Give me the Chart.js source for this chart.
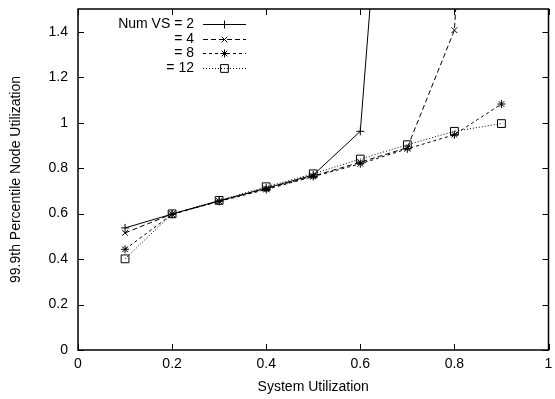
<!DOCTYPE html>
<html><head><meta charset="utf-8">
<style>html,body{margin:0;padding:0;background:#fff}canvas{display:block}</style>
<script src="https://cdn.jsdelivr.net/npm/chart.js@4.4.1/dist/chart.umd.min.js"></script>
</head><body>
<canvas id="c" width="555" height="399"></canvas>
<script>
// ---- data ----
const xValues = [0.1, 0.2, 0.3, 0.4, 0.5, 0.6, 0.7, 0.8, 0.9];
const vs2  = [0.537, 0.598, 0.656, 0.712, 0.770, 0.962, 3.6];
const vs4  = [0.515, 0.598, 0.655, 0.710, 0.765, 0.826, 0.890, 1.407, 4.7];
const vs8  = [0.443, 0.597, 0.654, 0.706, 0.763, 0.819, 0.885, 0.947, 1.082];
const vs12 = [0.401, 0.599, 0.658, 0.718, 0.775, 0.840, 0.903, 0.962, 0.996];
const seriesLabels = ['Num VS = 2', '= 4', '= 8', '= 12'];
const xTicks = [0, 0.2, 0.4, 0.6, 0.8, 1];
const xTickLabels = ['0', '0.2', '0.4', '0.6', '0.8', '1'];
const yTicks = [0, 0.2, 0.4, 0.6, 0.8, 1, 1.2, 1.4];
const yTickLabels = ['0', '0.2', '0.4', '0.6', '0.8', '1', '1.2', '1.4'];
const xTitle = 'System Utilization';
const yTitle = '99.9th Percentile Node Utilization';

// ---- styles ----
const FONT = '"Liberation Sans", Arial, Helvetica, sans-serif';
const INK = '#000';
const dashes = [[], [5, 3], [3, 3], [1, 2]];
const pStyles = ['cross', 'crossRot', 'star', 'rect'];
const pRadius = [4, 4, 4, 5.5];
const allSeries = [vs2, vs4, vs8, vs12];

const datasets = allSeries.map((vals, i) => ({
  label: seriesLabels[i],
  data: vals.map((v, j) => ({x: xValues[j], y: v})),
  borderColor: INK,
  borderWidth: 1,
  borderDash: dashes[i],
  pointStyle: pStyles[i],
  pointRadius: pRadius[i],
  pointBorderColor: INK,
  pointBackgroundColor: 'rgba(0,0,0,0)',
  pointBorderWidth: 1,
  fill: false,
  tension: 0
}));

function drawMarker(ctx, style, x, y, r) {
  ctx.beginPath();
  if (style === 'cross' || style === 'star') {
    ctx.moveTo(x - r, y); ctx.lineTo(x + r, y);
    ctx.moveTo(x, y - r); ctx.lineTo(x, y + r);
  }
  if (style === 'crossRot' || style === 'star') {
    const d = r * Math.SQRT1_2;
    ctx.moveTo(x - d, y - d); ctx.lineTo(x + d, y + d);
    ctx.moveTo(x - d, y + d); ctx.lineTo(x + d, y - d);
  }
  if (style === 'rect') {
    const s = r * Math.SQRT1_2;
    ctx.rect(x - s, y - s, 2 * s, 2 * s);
  }
  ctx.stroke();
}

const framePlugin = {
  id: 'frame',
  afterDatasetsDraw(chart) {
    const {ctx, chartArea: a, scales: {x, y}} = chart;
    ctx.save();
    ctx.strokeStyle = INK;
    ctx.lineWidth = 1;
    ctx.setLineDash([]);
    const L = 6;
    ctx.beginPath();
    x.ticks.forEach(t => {
      const px = Math.round(x.getPixelForValue(t.value)) + 0.5;
      ctx.moveTo(px, a.bottom); ctx.lineTo(px, a.bottom - L);
      ctx.moveTo(px, a.top); ctx.lineTo(px, a.top + L);
    });
    y.ticks.forEach(t => {
      const py = Math.round(y.getPixelForValue(t.value)) + 0.5;
      ctx.moveTo(a.left, py); ctx.lineTo(a.left + L, py);
      ctx.moveTo(a.right, py); ctx.lineTo(a.right - L, py);
    });
    ctx.stroke();
    ctx.lineWidth = 1.5;
    ctx.strokeRect(a.left, a.top, a.right - a.left, a.bottom - a.top);

    // legend
    ctx.font = '14px ' + FONT;
    ctx.fillStyle = INK;
    ctx.textAlign = 'right';
    ctx.textBaseline = 'middle';
    const textRight = a.left + 116;
    const lineL = a.left + 125, lineR = a.left + 168;
    chart.data.datasets.forEach((ds, i) => {
      const ry = a.top + 15 + i * 14.7;
      ctx.fillText(ds.label, textRight, ry);
      ctx.lineWidth = 1;
      ctx.setLineDash(ds.borderDash);
      ctx.beginPath();
      ctx.moveTo(lineL, Math.round(ry) + 0.5); ctx.lineTo(lineR, Math.round(ry) + 0.5);
      ctx.stroke();
      ctx.setLineDash([]);
      drawMarker(ctx, ds.pointStyle, (lineL + lineR) / 2, Math.round(ry) + 0.5, ds.pointRadius);
    });
    ctx.restore();
  }
};

new Chart(document.getElementById('c'), {
  type: 'line',
  data: {datasets},
  plugins: [framePlugin],
  options: {
    responsive: false,
    animation: false,
    devicePixelRatio: 1,
    layout: {padding: {top: 9, right: 2, left: 0, bottom: 0}},
    plugins: {legend: {display: false}, tooltip: {enabled: false}},
    scales: {
      x: {
        type: 'linear', min: 0, max: 1,
        grid: {display: false, drawTicks: false},
        border: {display: false},
        afterBuildTicks: s => { s.ticks = xTicks.map(v => ({value: v})); },
        afterFit: s => { s.height = 49; s.paddingLeft = 0; s.paddingRight = 0; },
        ticks: {
          color: INK, padding: 6, maxRotation: 0, autoSkip: false,
          font: {family: FONT, size: 14},
          callback: (v, i) => xTickLabels[i]
        },
        title: {display: true, text: xTitle, color: INK,
          font: {family: FONT, size: 14}, padding: {top: 0, bottom: 3.6}}
      },
      y: {
        type: 'linear', min: 0, max: 1.5,
        grid: {display: false, drawTicks: false},
        border: {display: false},
        afterBuildTicks: s => { s.ticks = yTicks.map(v => ({value: v})); },
        afterFit: s => { s.width = 78; s.paddingTop = 0; s.paddingBottom = 0; },
        ticks: {
          color: INK, padding: 10, autoSkip: false,
          font: {family: FONT, size: 14},
          callback: (v, i) => yTickLabels[i]
        },
        title: {display: true, text: yTitle, color: INK,
          font: {family: FONT, size: 14}, padding: {top: 7.3, bottom: 0}}
      }
    }
  }
});
</script>
</body></html>
